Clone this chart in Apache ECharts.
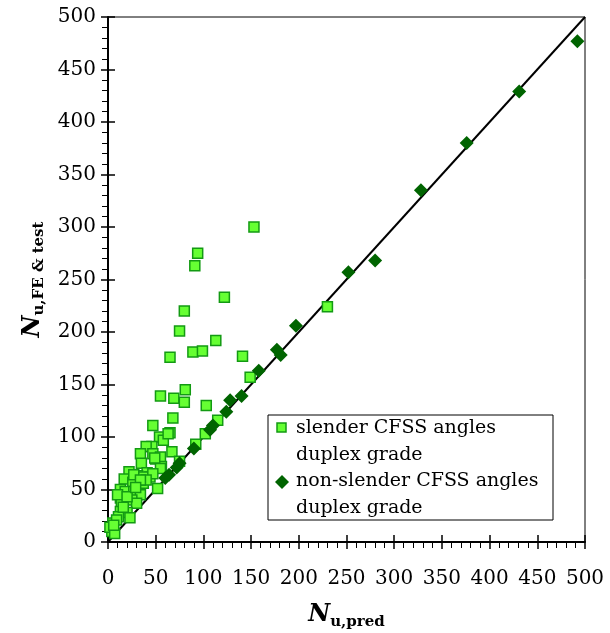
<!DOCTYPE html>
<html>
<head>
<meta charset="utf-8">
<script src="https://cdn.jsdelivr.net/npm/echarts@6/dist/echarts.min.js"></script>
<style>
  html, body { margin: 0; padding: 0; background: #fff; }
  #chart { width: 610px; height: 633px; }
</style>
</head>
<body>
<div id="chart"></div>
<script>
// Axis range and tick step (kN)
const axisMin = 0;
const axisMax = 500;
const tickStep = 50;

// Slender CFSS angles, duplex grade: predicted vs FE & test capacity
const slenderPred = [153, 94, 91, 122, 80, 75, 113, 65, 89, 99, 141, 149, 81, 55, 69, 80, 103, 68, 115, 102,
  47, 65, 54, 58, 92, 67, 46, 40, 34, 47, 50, 55, 56, 35, 55, 41, 22, 31, 17, 44,
  52, 26, 37, 13, 18, 27, 34, 13, 14, 25, 30, 13, 20, 11, 23, 5, 9, 4, 2, 7,
  37, 27, 47, 230, 40, 34, 75, 49, 63, 6, 16, 10, 20, 29];
const slenderTest = [300, 275, 263, 233, 220, 201, 192, 176, 181, 182, 177, 157, 145, 139, 137, 133, 130, 118, 116, 103,
  111, 104, 100, 97, 93, 86, 91, 91, 84, 84, 79, 81, 72, 75, 70, 66, 67, 63, 60, 62,
  51, 57, 56, 50, 48, 48, 45, 42, 37, 40, 37, 29, 28, 24, 23, 18, 21, 10, 14, 8,
  62, 64, 65, 224, 59, 59, 77, 80, 103, 16, 33, 45, 43, 52];

// Non-slender CFSS angles, duplex grade
const nonSlenderPred = [492, 431, 376, 328, 280, 252, 197, 177, 181, 158, 140, 128, 124, 110, 107, 90, 75, 72, 64, 60];
const nonSlenderTest = [477, 429, 380, 335, 268, 257, 206, 183, 178, 163, 139, 135, 124, 111, 107, 89, 75, 71, 64, 61];

// Legend labels (two lines each)
const legendLines = [
  ['slender CFSS angles', 'duplex grade'],
  ['non-slender CFSS angles', 'duplex grade']
];

const serif = 'DejaVu Serif';
const pair = (xs, ys) => xs.map((x, i) => [x, ys[i]]);

const chart = echarts.init(document.getElementById('chart'), null, { renderer: 'canvas' });

const baseAxis = {
  type: 'value',
  min: axisMin,
  max: axisMax,
  interval: tickStep,
  splitLine: { show: false }
};

const outerAxis = Object.assign({}, baseAxis, {
  axisLine: { show: true, onZero: false, lineStyle: { color: '#000', width: 2 } },
  axisTick: { show: true, inside: false, length: 7, lineStyle: { color: '#000', width: 1.5 } },
  minorTick: { show: true, splitNumber: 5, length: 6, lineStyle: { color: '#000', width: 1 } },
  axisLabel: { color: '#000', fontFamily: serif, fontSize: 20 }
});

const innerAxis = Object.assign({}, baseAxis, {
  axisLine: { show: false },
  axisTick: { show: true, inside: true, length: 7, lineStyle: { color: '#000', width: 1.5 } },
  axisLabel: { show: false }
});

const nameRich = {
  n: { fontFamily: serif, fontWeight: 'bold', fontStyle: 'italic', fontSize: 24, color: '#000', lineHeight: 30 },
  s: { fontFamily: serif, fontWeight: 'bold', fontSize: 15, color: '#000', lineHeight: 30, padding: [14, 0, 0, 0] }
};

const legendX = 268, legendY = 415;

chart.setOption({
  animation: false,
  backgroundColor: '#fff',
  grid: {
    left: 108, right: 25, top: 17, bottom: 91,
    containLabel: false, outerBoundsMode: 'none',
    show: true, borderColor: '#000', borderWidth: 1
  },
  xAxis: [
    Object.assign({}, outerAxis, {
      position: 'bottom',
      axisLabel: Object.assign({}, outerAxis.axisLabel, { margin: 27 }),
      name: '{n|N}{s|u,pred}',
      nameLocation: 'middle',
      nameGap: 58,
      nameTextStyle: { rich: nameRich }
    }),
    Object.assign({}, innerAxis, { position: 'bottom' })
  ],
  yAxis: [
    Object.assign({}, outerAxis, {
      position: 'left',
      axisLabel: Object.assign({}, outerAxis.axisLabel, { margin: 12 }),
      name: '{n|N}{s|u,FE & test}',
      nameLocation: 'middle',
      nameGap: 60,
      nameRotate: 90,
      nameTextStyle: { rich: nameRich }
    }),
    Object.assign({}, innerAxis, { position: 'left' })
  ],
  series: [
    {
      name: 'parity',
      type: 'line',
      data: [[axisMin, axisMin], [axisMax, axisMax]],
      symbol: 'none',
      lineStyle: { color: '#000', width: 2 },
      z: 1,
      silent: true
    },
    {
      name: legendLines[0].join(' '),
      type: 'scatter',
      data: pair(slenderPred, slenderTest),
      symbol: 'rect',
      symbolSize: 10,
      itemStyle: { color: '#66ff33', borderColor: '#139a13', borderWidth: 1.5, opacity: 1 },
      z: 2
    },
    {
      name: legendLines[1].join(' '),
      type: 'scatter',
      data: pair(nonSlenderPred, nonSlenderTest),
      symbol: 'diamond',
      symbolSize: 14,
      itemStyle: { color: '#006400', opacity: 1 },
      z: 3
    }
  ],
  graphic: [
    {
      type: 'rect',
      shape: { x: legendX, y: legendY, width: 285, height: 105 },
      style: { fill: '#fff', stroke: '#000', lineWidth: 1 },
      z: 10
    },
    {
      type: 'rect',
      shape: { x: legendX + 9, y: legendY + 8, width: 9, height: 9 },
      style: { fill: '#66ff33', stroke: '#139a13', lineWidth: 1.5 },
      z: 11
    },
    {
      type: 'polygon',
      shape: { points: [[legendX + 14, legendY + 60], [legendX + 21, legendY + 67], [legendX + 14, legendY + 74], [legendX + 7, legendY + 67]] },
      style: { fill: '#006400' },
      z: 11
    },
    ...[legendLines[0][0], legendLines[0][1], legendLines[1][0], legendLines[1][1]].map((t, i) => ({
      type: 'text',
      x: legendX + 28,
      y: legendY + 13 + i * 26.7,
      style: { text: t, fill: '#000', font: '19px "' + serif + '"', textVerticalAlign: 'middle', verticalAlign: 'middle' },
      z: 11
    }))
  ]
});
</script>
</body>
</html>
